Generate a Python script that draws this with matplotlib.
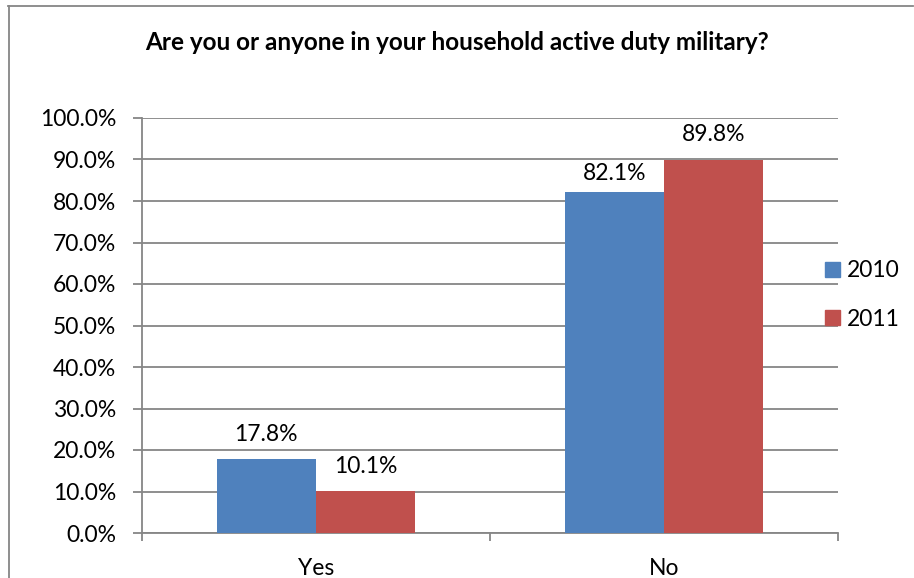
import matplotlib
matplotlib.use("Agg")
import matplotlib.pyplot as plt
import numpy as np
from matplotlib.lines import Line2D
from matplotlib.patches import Rectangle

categories = ["Yes", "No"]
series_names = ["2010", "2011"]
values_2010 = [17.8, 82.1]
values_2011 = [10.1, 89.8]
yticks = [0, 10, 20, 30, 40, 50, 60, 70, 80, 90, 100]

plt.rcParams['font.family'] = ['Lato', 'DejaVu Sans']

W, H = 914, 578
DPI = 100
PX = 72 / DPI  # points per pixel
fig = plt.figure(figsize=(W / DPI, H / DPI), dpi=DPI)

def fx(px):
    return px / W

def fy(py):
    return 1 - py / H

FS = 16.5

left, right, top, bottom = 142, 838, 118, 533
ax = fig.add_axes([fx(left), fy(bottom), fx(right) - fx(left), fy(top) - fy(bottom)])

blue = "#4F81BD"
red = "#C0504D"
grid = "#868686"

x = np.arange(len(categories))
w = 1 / 3.5
b1 = ax.bar(x - w / 2, values_2010, w, color=blue, label=series_names[0], zorder=3)
b2 = ax.bar(x + w / 2, values_2011, w, color=red, label=series_names[1], zorder=3)

label_gaps = ([18, 12], [18, 19])  # pixel gap between bar top and label baseline
for bars, vals, gaps in ((b1, values_2010, label_gaps[0]), (b2, values_2011, label_gaps[1])):
    for r, v, g in zip(bars, vals, gaps):
        ax.annotate(f"{v:.1f}%", xy=(r.get_x() + r.get_width() / 2, v),
                    xytext=(0, g * PX), textcoords="offset points",
                    ha="center", va="baseline", fontsize=FS, color="black", zorder=4)

ax.set_xlim(-0.5, 1.5)
ax.set_ylim(0, 100)
ax.set_yticks(yticks)
ax.set_yticklabels([f"{t:.1f}%" for t in yticks], fontsize=FS)
ax.yaxis.grid(True, color=grid, linewidth=1.3, zorder=0)
ax.set_axisbelow(True)
ax.tick_params(axis="y", length=9 * PX, width=1.3, color=grid, pad=17 * PX)

ax.set_xticks(x)
ax.set_xticklabels([])
ax.tick_params(axis="x", length=0)
for xi, name in zip(x, categories):
    ax.annotate(name, xy=(xi, 0), xycoords=("data", "axes fraction"),
                xytext=(0, -(575 - bottom) * PX), textcoords="offset points",
                ha="center", va="baseline", fontsize=FS)
ax.set_xticks([-0.5, 0.5, 1.5], minor=True)
ax.tick_params(axis="x", which="minor", length=8 * PX, width=1.3, color=grid)

for s in ("top", "right"):
    ax.spines[s].set_visible(False)
for s in ("left", "bottom"):
    ax.spines[s].set_color(grid)
    ax.spines[s].set_linewidth(1.3)

fig.text(fx(457), fy(50), "Are you or anyone in your household active duty military?",
         ha="center", va="baseline", fontsize=17.5, fontweight="bold")

# Legend
for sq_top, base, col, name in ((262, 277, blue, series_names[0]), (310, 326, red, series_names[1])):
    fig.patches.append(Rectangle((fx(825), fy(sq_top + 15)), fx(15), 15 / H, color=col,
                                 transform=fig.transFigure, figure=fig))
    fig.text(fx(847), fy(base), name, ha="left", va="baseline", fontsize=FS)

# outer border
fig.add_artist(Line2D([fx(8), fx(913)], [fy(5.5), fy(5.5)], color=grid, linewidth=1.3))
fig.add_artist(Line2D([fx(8.5), fx(8.5)], [fy(5.5), 0], color=grid, linewidth=1.3))

fig.savefig("out.png", dpi=DPI)
